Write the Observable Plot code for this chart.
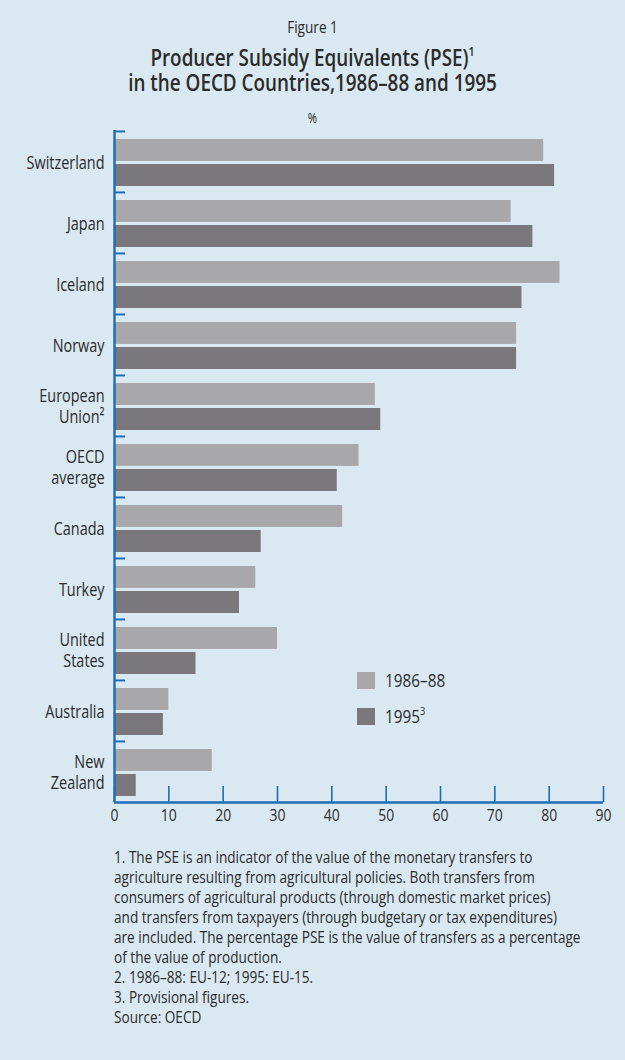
<!DOCTYPE html>
<html>
<head>
<meta charset="utf-8">
<script src="https://cdn.jsdelivr.net/npm/d3@7"></script>
<script src="https://cdn.jsdelivr.net/npm/@observablehq/plot@0.6"></script>
<style>
  body { margin: 0; background: #d9e8f1; }
  #page {
    position: relative; width: 625px; height: 1060px; overflow: hidden;
    font-family: "Open Sans", "Liberation Sans", sans-serif;
    color: #2b2b2b;
  }
  .abs { position: absolute; }
  .line { display: block; white-space: nowrap; }
  .mid { transform-origin: 312.5px 50%; }
  .left { transform-origin: 0 50%; }
  #figno { left: 0; width: 625px; top: 18px; text-align: center; font-size: 17px; line-height: 18px; }
  #figno .line { transform: scaleX(0.8); }
  #title { left: 0; width: 625px; top: 45px; text-align: center; font-size: 23px; font-weight: 600; line-height: 25px; }
  #title .line { transform: scaleX(0.82); }
  #title sup { font-size: 13px; vertical-align: 10px; line-height: 0; }
  #unit { left: 0; width: 625px; top: 110px; text-align: center; font-size: 14px; line-height: 16px; }
  #unit .line { transform: scaleX(0.8); }
  #chart { left: 0; top: 125px; }
  #legend { left: 357px; top: 662px; font-size: 18px; }
  #legend .row { display: flex; align-items: center; height: 36px; }
  #legend .sw { width: 18px; height: 17px; margin-right: 10px; flex: none; }
  #legend .txt { display: inline-block; transform: scaleX(0.85); transform-origin: 0 50%; white-space: nowrap; }
  #legend sup { font-size: 11px; vertical-align: 8px; line-height: 0; }
  #notes { left: 114px; top: 847px; font-size: 17px; line-height: 20px; }
  #notes .line { transform: scaleX(0.8); }
</style>
</head>
<body>
<div id="page">
  <div class="abs" id="figno"><span class="line mid">Figure 1</span></div>
  <div class="abs" id="title">
    <span class="line mid">Producer Subsidy Equivalents (PSE)<sup>1</sup></span>
    <span class="line mid">in the OECD Countries,1986–88 and 1995</span>
  </div>
  <div class="abs" id="unit"><span class="line mid">%</span></div>
  <div class="abs" id="chart"></div>
  <div class="abs" id="legend"></div>
  <div class="abs" id="notes">
    <span class="line left">1. The PSE is an indicator of the value of the monetary transfers to</span>
    <span class="line left">agriculture resulting from agricultural policies. Both transfers from</span>
    <span class="line left">consumers of agricultural products (through domestic market prices)</span>
    <span class="line left">and transfers from taxpayers (through budgetary or tax expenditures)</span>
    <span class="line left">are included. The percentage PSE is the value of transfers as a percentage</span>
    <span class="line left">of the value of production.</span>
    <span class="line left">2. 1986–88: EU-12; 1995: EU-15.</span>
    <span class="line left">3. Provisional figures.</span>
    <span class="line left">Source: OECD</span>
  </div>
</div>
<script>
// Producer subsidy equivalents, % of the value of production
const countries = ["Switzerland", "Japan", "Iceland", "Norway", "European Union", "OECD average",
  "Canada", "Turkey", "United States", "Australia", "New Zealand"];
const countryLabels = ["Switzerland", "Japan", "Iceland", "Norway", "European\nUnion²", "OECD\naverage",
  "Canada", "Turkey", "United\nStates", "Australia", "New\nZealand"];
const pse198688 = [79, 73, 82, 74, 48, 45, 42, 26, 30, 10, 18];
const pse1995 = [81, 77, 75, 74, 49, 41, 27, 23, 15, 9, 4];
const periods = ["1986–88", "1995"];
const periodNotes = ["", "3"];
const periodColors = ["#a8a7aa", "#7a787c"];
const xTicks = [0, 10, 20, 30, 40, 50, 60, 70, 80, 90];

const axisBlue = "#1d6cb4";
const fontFamily = '"Open Sans", "Liberation Sans", sans-serif';

const rows = countries.map((country, i) => ({
  country, label: countryLabels[i], early: pse198688[i], late: pse1995[i]
}));

const W = 625, H = 712, mT = 5, mB = 35, mL = 114, mR = 22;
const plotH = H - mT - mB;
const plotW = W - mL - mR;
const bandH = plotH / countries.length;

const chart = Plot.plot({
  width: W, height: H,
  marginTop: mT, marginBottom: mB, marginLeft: mL, marginRight: mR,
  style: { background: "transparent", fontFamily, fontSize: "17px", color: "#2b2b2b" },
  x: { domain: [0, 90], ticks: xTicks, tickSize: 0, tickPadding: 6, label: null },
  y: { domain: countries, padding: 0, axis: null },
  marks: [
    // two bars per country: 1986–88 on top, 1995 below
    Plot.barX(rows, { y: "country", x: "early", fill: periodColors[0], insetTop: 8, insetBottom: bandH - 30 }),
    Plot.barX(rows, { y: "country", x: "late", fill: periodColors[1], insetTop: 33, insetBottom: 6 }),
    // x ticks rising from the baseline
    Plot.ruleX(xTicks, { stroke: axisBlue, strokeWidth: 1.6, insetTop: plotH - 16 }),
    // y axis line and the short ticks between countries
    Plot.ruleX([0], { stroke: axisBlue, strokeWidth: 2.4 }),
    Plot.ruleY(countries, { y: d => d, dy: -bandH / 2, stroke: axisBlue, strokeWidth: 2, insetRight: plotW - 11 }),
    // baseline
    Plot.ruleY(countries.slice(-1), { y: d => d, dy: bandH / 2, stroke: axisBlue, strokeWidth: 2.4 }),
    // country names
    Plot.text(rows, { y: "country", x: 0, text: "label", textAnchor: "end", dx: -10, lineHeight: 1.12, fontSize: 18.5, fill: "#2b2b2b" })
  ]
});

// condensed lettering: squeeze each label horizontally about its anchor
d3.select(chart).selectAll("text").each(function () {
  const t = this.getAttribute("transform") || "";
  const numeric = /^[\d\s]+$/.test(this.textContent);
  this.setAttribute("transform", `${t} scale(${numeric ? 0.82 : 0.78},1)`);
});
document.getElementById("chart").appendChild(chart);

const legend = document.getElementById("legend");
periods.forEach((p, i) => {
  const row = document.createElement("div");
  row.className = "row";
  const sw = document.createElement("span");
  sw.className = "sw";
  sw.style.background = periodColors[i];
  const label = document.createElement("span");
  label.className = "txt";
  label.textContent = p;
  if (periodNotes[i]) {
    const sup = document.createElement("sup");
    sup.textContent = periodNotes[i];
    label.appendChild(sup);
  }
  row.appendChild(sw);
  row.appendChild(label);
  legend.appendChild(row);
});
</script>
</body>
</html>
